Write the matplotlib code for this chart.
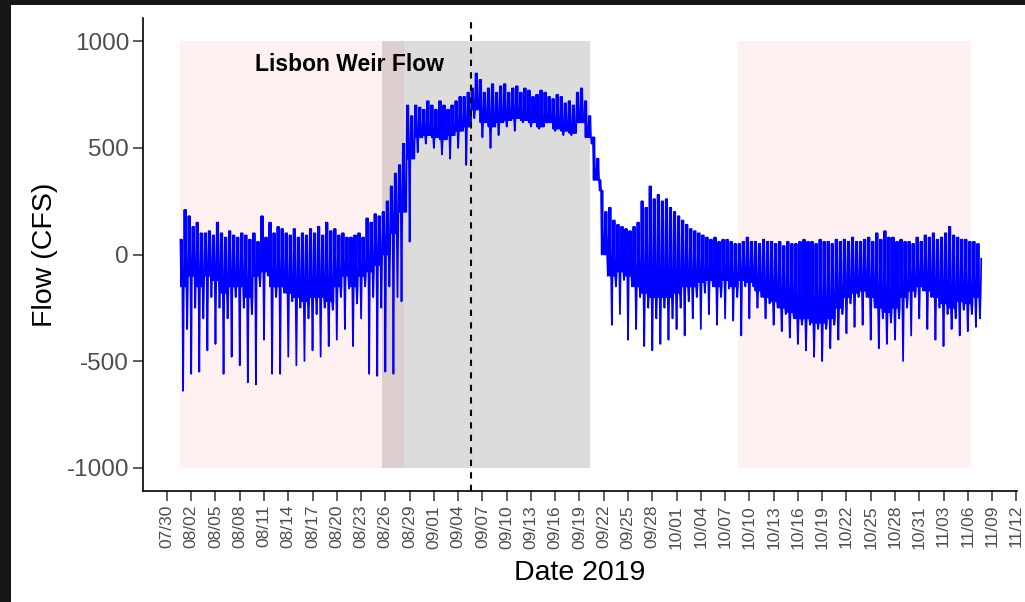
import matplotlib
matplotlib.use("Agg")
import matplotlib.pyplot as plt
import matplotlib.dates as mdates
import numpy as np
import pandas as pd

plt.rcParams["axes.unicode_minus"] = False

# ---- data: per-day tidal levels, 07/31 .. 11/07 ----
day_high_a = [70, 180, 150, 100, 90, 100, 110, 80, 90, 100,
              180, 150, 130, 100, 120, 100, 120, 130, 150, 120,
              100, 80, 100, 170, 190, 200, 320, 420, 700, 700,
              680, 700, 720, 680, 720, 740, 780, 820, 780, 760,
              800, 780, 760, 770, 750, 760, 730, 740, 720, 760,
              720, 550, 300, 220, 140, 120, 130, 250, 320, 280,
              260, 200, 160, 120, 100, 80, 80, 70, 60, 50,
              80, 60, 70, 60, 60, 60, 50, 70, 60, 70,
              60, 70, 70, 80, 60, 80, 100, 110, 80, 70,
              60, 80, 90, 100, 80, 130, 80, 70, 60]
day_high_b = [210, 130, 100, 110, 150, 80, 90, 100, 70, 60,
              80, 100, 120, 90, 80, 90, 100, 90, 110, 90,
              80, 90, 80, 150, 180, 250, 380, 520, 650, 690,
              720, 680, 700, 700, 740, 760, 850, 760, 800, 790,
              760, 790, 780, 740, 770, 740, 750, 710, 700, 780,
              650, 450, 200, 160, 130, 110, 150, 220, 260, 250,
              220, 180, 140, 110, 90, 70, 60, 70, 50, 60,
              60, 50, 60, 50, 40, 50, 60, 60, 50, 60,
              50, 60, 60, 60, 70, 60, 70, 80, 60, 60,
              50, 60, 80, 70, 100, 90, 70, 60, 50]
day_body = [-150, -100, -150, -100, -120, -180, -150, -150, -200, -100,
            -80, -150, -150, -180, -200, -220, -200, -200, -220, -150,
            -100, -150, -100, -80, -50, 0, 100, 200, 450, 550,
            560, 550, 540, 560, 580, 600, 680, 620, 600, 620,
            630, 640, 630, 620, 600, 620, 590, 580, 570, 620,
            550, 350, 0, -100, -80, -100, -150, -180, -200, -200,
            -200, -180, -150, -150, -130, -120, -150, -120, -150, -120,
            -130, -170, -200, -220, -250, -270, -300, -300, -320, -320,
            -300, -250, -200, -180, -170, -200, -250, -270, -250, -200,
            -170, -150, -170, -200, -230, -250, -220, -230, -200]
day_low_deep = [-640, -560, -550, -450, -420, -560, -480, -520, -600, -610,
                -400, -560, -560, -480, -520, -500, -450, -480, -430, -400,
                -350, -430, -300, -560, -570, -550, -560, -220, 60, 480,
                520, 500, 470, 450, 500, 420, 640, 550, 500, 560,
                600, 580, 620, 600, 590, 620, 580, 560, 560, 620,
                600, 400, 80, -330, -280, -400, -350, -430, -450, -420,
                -400, -350, -380, -300, -350, -280, -330, -300, -310, -380,
                -300, -250, -300, -330, -360, -390, -420, -450, -480, -500,
                -440, -400, -370, -340, -330, -400, -440, -420, -400, -500,
                -380, -300, -350, -400, -430, -350, -380, -360, -340]
day_low_shallow = [-350, -250, -300, -200, -250, -300, -200, -250, -280, -150,
                   -100, -200, -180, -220, -250, -300, -280, -250, -260, -200,
                   -160, -230, -150, -200, -250, -150, -200, 250, 450, 550,
                   580, 560, 580, 560, 600, 620, 700, 650, 620, 640,
                   650, 660, 650, 640, 630, 650, 620, 600, 590, 650,
                   520, 300, -100, -150, -120, -150, -200, -250, -300, -250,
                   -300, -250, -220, -200, -180, -150, -200, -160, -200, -150,
                   -150, -200, -230, -250, -280, -300, -330, -330, -350, -350,
                   -330, -280, -230, -200, -200, -250, -300, -320, -300, -250,
                   -200, -170, -200, -250, -280, -300, -260, -280, -300]
final_value = -20

start_time = "2019-07-31 16:00"
step = "2h"
dashed_date = "2019-09-05 14:00"
pink_spans = [("2019-07-31 16:00", "2019-08-28 06:00"),
              ("2019-10-08 15:00", "2019-11-06 10:00")]
grey_span = ("2019-08-25 15:30", "2019-09-20 08:00")
tick_start, tick_end = "2019-07-30", "2019-11-12"
title_text = "Lisbon Weir Flow"

# ---- build the series: two tidal cycles per day from the read levels ----
vals = []
for ha, hb, bd, ld, ls in zip(day_high_a, day_high_b, day_body, day_low_deep, day_low_shallow):
    vals.extend([ha, bd, ha, bd, ld, bd, hb, bd, hb, bd, ls, bd])
vals.append(final_value)
times = pd.date_range(start_time, periods=len(vals), freq=step)

# ---- figure ----
fig = plt.figure(figsize=(10.25, 6.02), dpi=100, facecolor="#161616")
bg = fig.add_axes([11 / 1025, 0, 1 - 11 / 1025, (602 - 5) / 602], zorder=-5)
bg.set_facecolor("white")
bg.set_xticks([])
bg.set_yticks([])
for sp in bg.spines.values():
    sp.set_visible(False)

ax = fig.add_axes([143 / 1025, 111 / 602, (1017 - 143) / 1025, (491 - 18) / 602], zorder=1)
ax.patch.set_alpha(0)

ax.axvspan(pd.Timestamp(grey_span[0]), pd.Timestamp(grey_span[1]),
           ymin=(-1000 + 1110) / 2220, ymax=(1000 + 1110) / 2220,
           facecolor="#DCDCDC", edgecolor="none", zorder=1)
for s, e in pink_spans:
    ax.axvspan(pd.Timestamp(s), pd.Timestamp(e),
               ymin=(-1000 + 1110) / 2220, ymax=(1000 + 1110) / 2220,
               facecolor=(1, 0, 0, 0.055), edgecolor="none", zorder=2)

ax.plot(times, vals, color="#0000FF", lw=1.25, zorder=3)
ax.axvline(pd.Timestamp(dashed_date), color="black", ls=(0, (3, 3)), lw=1.5, zorder=4)

ax.text(pd.Timestamp("2019-08-21 12:00"), 890, title_text, fontsize=16.5,
        fontweight="bold", family="Liberation Sans", ha="center", va="center",
        color="black", zorder=5)

ax.set_ylim(-1110, 1110)
ax.set_xlim(pd.Timestamp("2019-07-27 01:00"), pd.Timestamp("2019-11-12 02:00"))
ax.set_yticks([-1000, -500, 0, 500, 1000])
ticks = pd.date_range(tick_start, tick_end, freq="3D")
ax.set_xticks(ticks)
ax.xaxis.set_major_formatter(mdates.DateFormatter("%m/%d"))

for sp in ["top", "right"]:
    ax.spines[sp].set_visible(False)
for sp in ["left", "bottom"]:
    ax.spines[sp].set_linewidth(1.2)
    ax.spines[sp].set_color("black")

ax.tick_params(axis="y", length=7, width=1.1, color="#333333", labelsize=17.5,
               labelcolor="#4D4D4D", pad=3)
ax.tick_params(axis="x", length=7, width=1.1, color="#333333", labelsize=12.5,
               labelcolor="#4D4D4D", pad=3, labelrotation=90)
for lab in ax.get_xticklabels() + ax.get_yticklabels():
    lab.set_family("Liberation Sans")

ax.set_xlabel("Date 2019", fontsize=20.5, family="Liberation Sans", color="black", labelpad=8)
ax.set_ylabel("Flow (CFS)", fontsize=20.5, family="Liberation Sans", color="black", labelpad=6)

fig.savefig("out.png", dpi=100, facecolor=fig.get_facecolor())
